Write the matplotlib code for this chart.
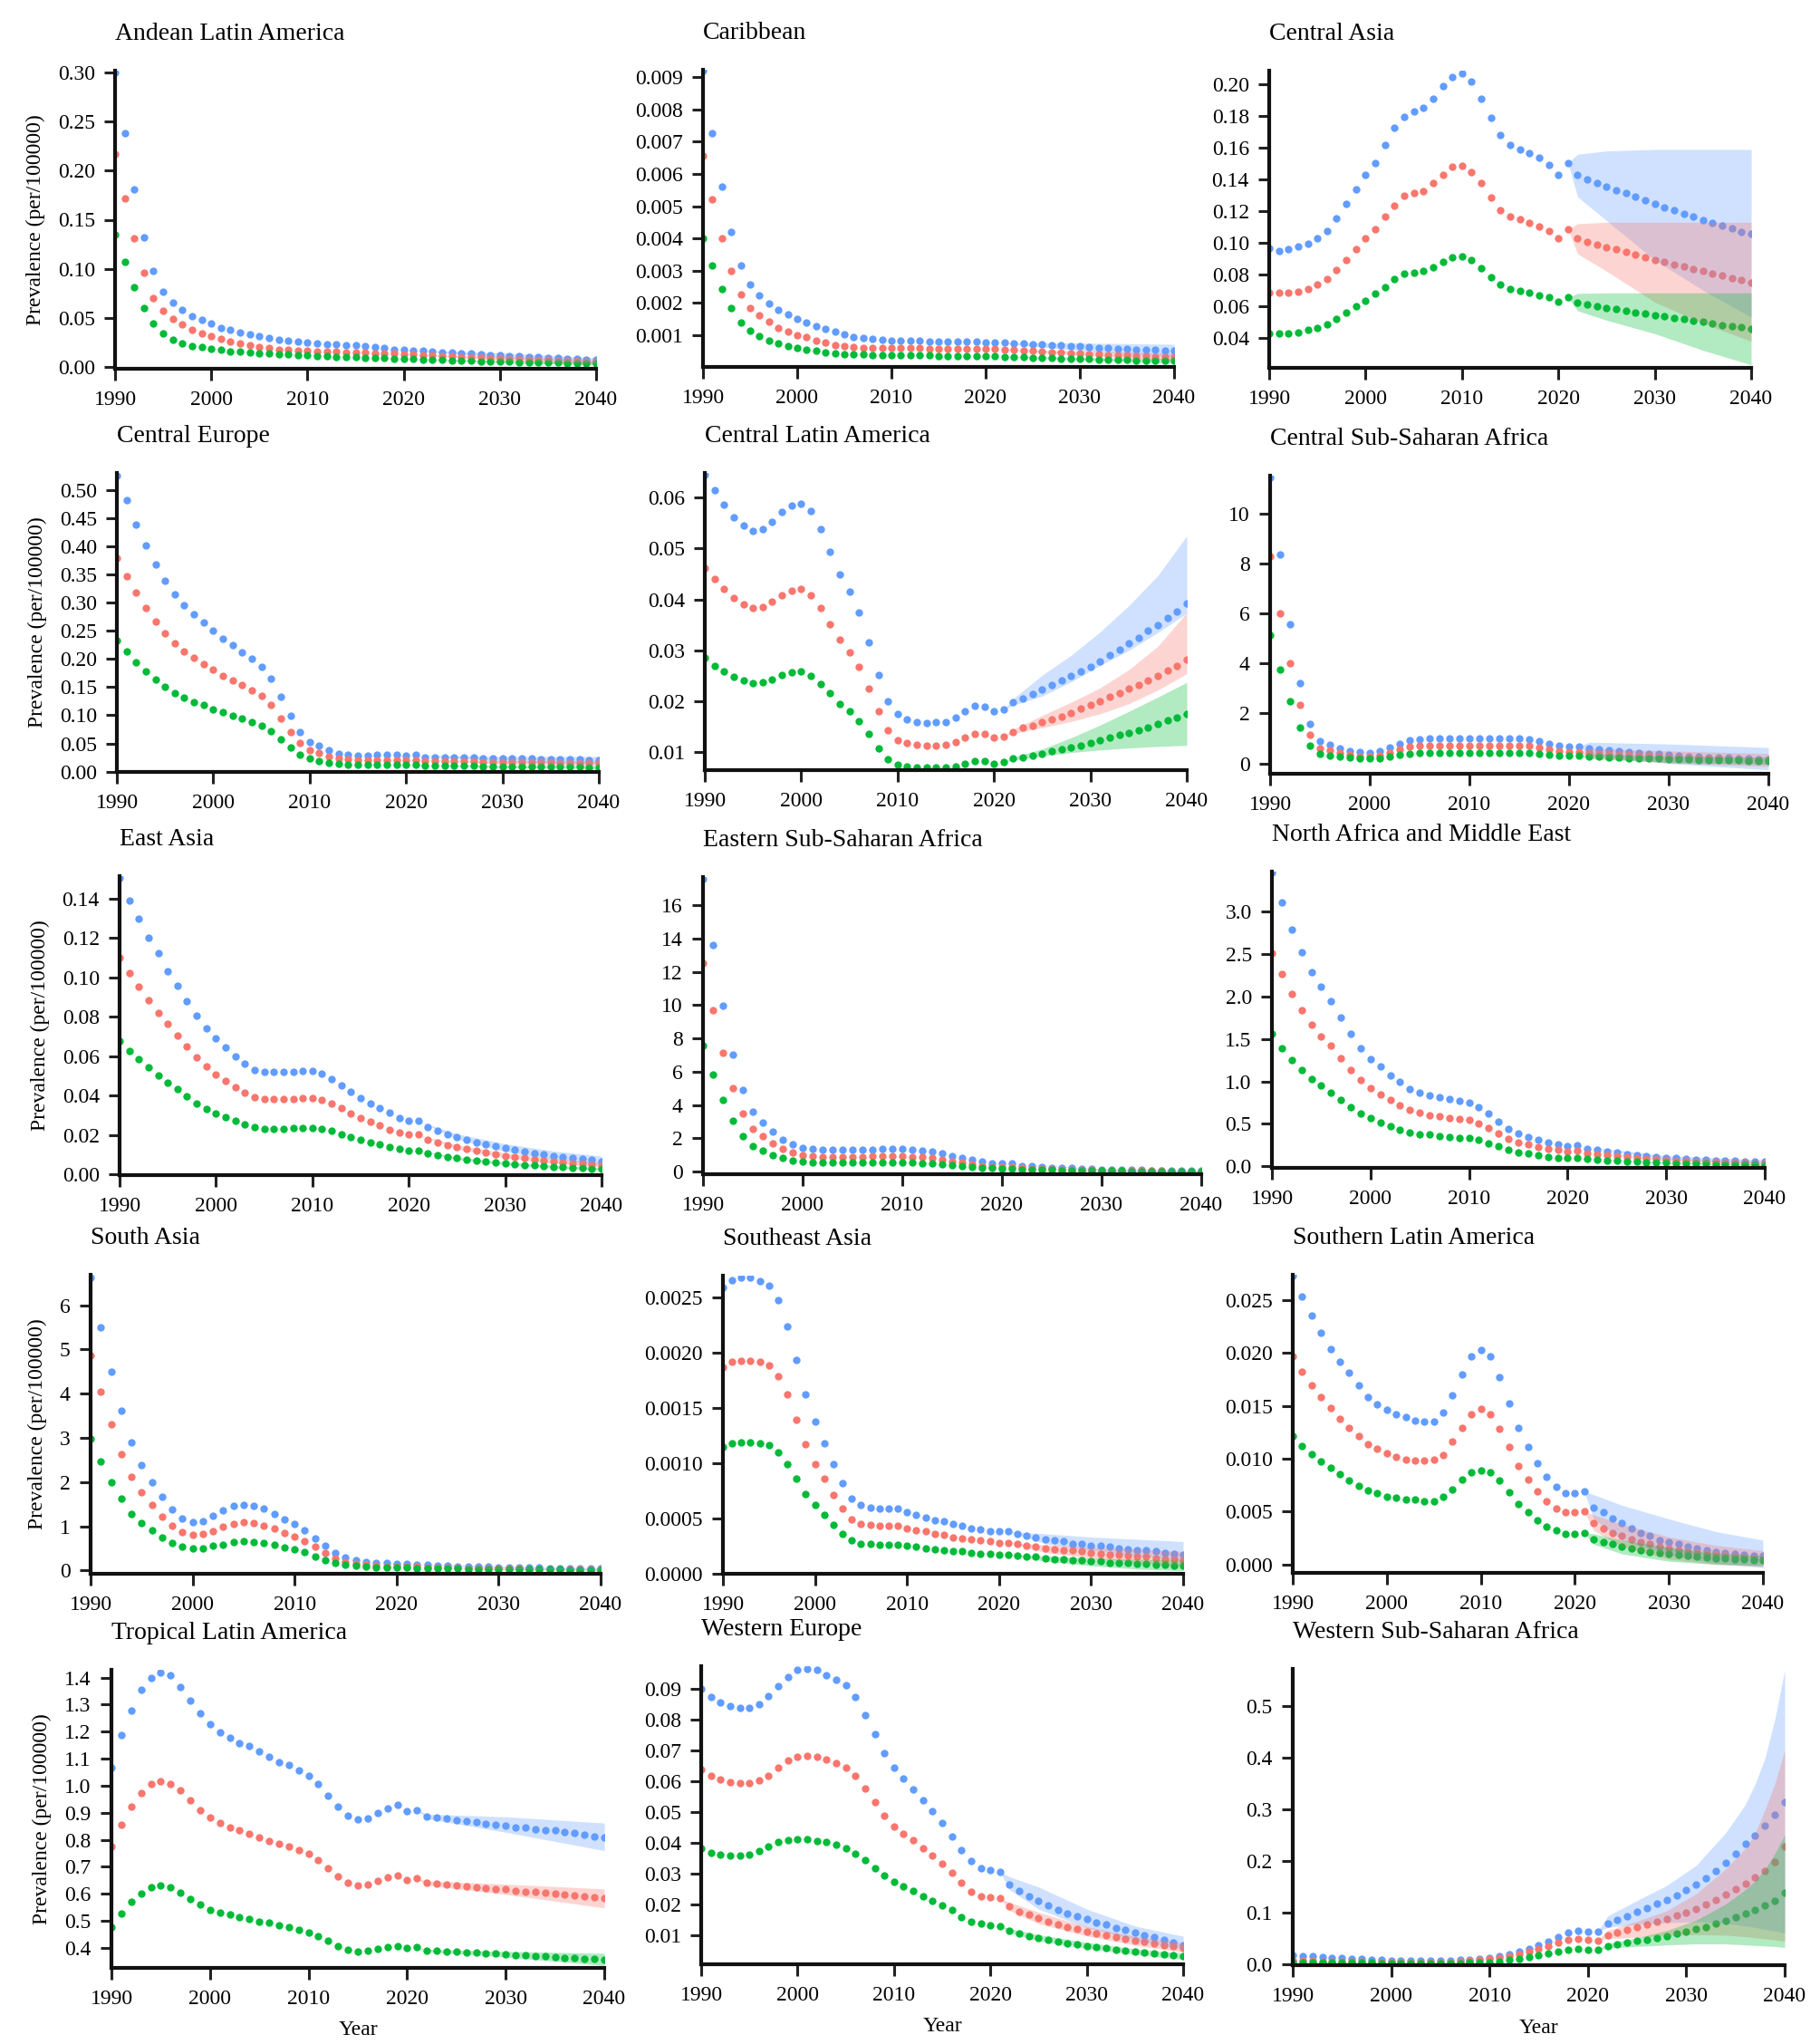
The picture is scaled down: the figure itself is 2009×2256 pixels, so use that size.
import matplotlib
matplotlib.use('Agg')
import matplotlib.pyplot as plt
from matplotlib.ticker import MultipleLocator, FormatStrFormatter

plt.rcParams['font.family'] = ['Liberation Serif', 'DejaVu Serif']

YEARS = list(range(1990, 2041))

C_BLUE = '#619CFF'
C_RED = '#F8766D'
C_GREEN = '#00BA38'
COLORS = (C_BLUE, C_RED, C_GREEN)

# ---------------- Andean Latin America ----------------
ANDEAN_BLUE = [0.300, 0.238, 0.181, 0.132, 0.098, 0.077, 0.066, 0.058, 0.052, 0.048,
               0.044, 0.040, 0.0375, 0.035, 0.033, 0.031, 0.030, 0.028, 0.027, 0.026,
               0.025, 0.024, 0.0235, 0.023, 0.0225, 0.022, 0.021, 0.020, 0.019, 0.018,
               0.0175, 0.017, 0.0165, 0.016, 0.015, 0.0145, 0.014, 0.0135, 0.013, 0.0125,
               0.012, 0.0115, 0.011, 0.0105, 0.010, 0.0095, 0.009, 0.0085, 0.008, 0.0075,
               0.007]
ANDEAN_RED = [0.217, 0.172, 0.131, 0.096, 0.070, 0.057, 0.049, 0.043, 0.0375, 0.034,
              0.031, 0.0286, 0.026, 0.024, 0.022, 0.0206, 0.019, 0.018, 0.0175, 0.017,
              0.0166, 0.016, 0.0157, 0.0154, 0.0151, 0.0148, 0.0145, 0.0142, 0.0139, 0.0136,
              0.0133, 0.013, 0.0125, 0.012, 0.0115, 0.011, 0.0106, 0.0102, 0.0098, 0.0094,
              0.009, 0.0086, 0.0082, 0.0078, 0.0074, 0.0071, 0.0068, 0.0065, 0.0062, 0.0059,
              0.0056]
ANDEAN_GREEN = [0.135, 0.107, 0.081, 0.060, 0.044, 0.0345, 0.028, 0.024, 0.0215, 0.020,
                0.0185, 0.0172, 0.016, 0.0154, 0.0148, 0.0142, 0.0137, 0.0132, 0.0127, 0.0122,
                0.0117, 0.0113, 0.0109, 0.0105, 0.0102, 0.0099, 0.0096, 0.0093, 0.009, 0.0087,
                0.0084, 0.0081, 0.0078, 0.0075, 0.0072, 0.0069, 0.0066, 0.0063, 0.006, 0.0057,
                0.0055, 0.0053, 0.0051, 0.0049, 0.0047, 0.0045, 0.0043, 0.0041, 0.0039, 0.0038,
                0.0037]
ANDEAN_BAND_YEARS = [2021, 2030, 2040]
ANDEAN_LO = ([0.017, 0.0095, 0.004], [0.013, 0.0068, 0.003], [0.0081, 0.0043, 0.0022])
ANDEAN_HI = ([0.017, 0.0145, 0.0095], [0.013, 0.011, 0.0075], [0.0081, 0.0068, 0.0052])

# ---------------- Caribbean ----------------
CARIB_BLUE = [0.0092, 0.00727, 0.0056, 0.0042, 0.00317, 0.00256, 0.00224, 0.00198, 0.0018, 0.00165,
              0.00151, 0.00139, 0.00128, 0.00119, 0.0011, 0.00102, 0.00095, 0.00091, 0.00088, 0.00086,
              0.00084, 0.00083, 0.00082, 0.00082, 0.00081, 0.00081, 0.0008, 0.0008, 0.00079, 0.00079,
              0.00078, 0.00078, 0.00077, 0.00076, 0.00074, 0.00073, 0.00071, 0.0007, 0.00068, 0.00067,
              0.00065, 0.00064, 0.00062, 0.00061, 0.00059, 0.00058, 0.00056, 0.00055, 0.00054, 0.00052,
              0.00051]
CARIB_RED = [0.00655, 0.00521, 0.004, 0.003, 0.00226, 0.00184, 0.00161, 0.00142, 0.00123, 0.00111,
             0.001, 0.00093, 0.00084, 0.00077, 0.0007, 0.00065, 0.00063, 0.00062, 0.00061, 0.00061,
             0.0006, 0.0006, 0.0006, 0.0006, 0.00059, 0.00059, 0.00059, 0.00058, 0.00058, 0.00058,
             0.00057, 0.00057, 0.00055, 0.00054, 0.00052, 0.00051, 0.00049, 0.00048, 0.00046, 0.00045,
             0.00043, 0.00042, 0.0004, 0.00039, 0.00038, 0.00037, 0.00036, 0.00035, 0.00034, 0.00033,
             0.00032]
CARIB_GREEN = [0.004, 0.00317, 0.00243, 0.00184, 0.00139, 0.00114, 0.00098, 0.00084, 0.00075, 0.00067,
               0.00061, 0.00055, 0.00051, 0.00048, 0.00044, 0.00042, 0.00041, 0.0004, 0.00039, 0.00039,
               0.00038, 0.00038, 0.00037, 0.00037, 0.00037, 0.00036, 0.00036, 0.00036, 0.00035, 0.00035,
               0.00035, 0.00035, 0.00034, 0.00033, 0.00032, 0.00031, 0.0003, 0.00029, 0.00028, 0.00027,
               0.00027, 0.00026, 0.00025, 0.00024, 0.00024, 0.00023, 0.00022, 0.00022, 0.00021, 0.00021,
               0.0002]
CARIB_BAND_YEARS = [2021, 2030, 2040]
CARIB_LO = ([0.00078, 0.00052, 0.00033], [0.00057, 0.00038, 0.00022], [0.00035, 0.00023, 0.00013])
CARIB_HI = ([0.00078, 0.00076, 0.00072], [0.00057, 0.00051, 0.00045], [0.00035, 0.00031, 0.00028])

# ---------------- Central Asia ----------------
CASIA_BLUE = [0.0965, 0.095, 0.096, 0.0975, 0.0994, 0.1026, 0.1074, 0.1156, 0.1244, 0.1336,
              0.1427, 0.1505, 0.1616, 0.1729, 0.1798, 0.183, 0.1851, 0.1908, 0.199, 0.2048,
              0.2071, 0.2019, 0.1908, 0.1788, 0.1679, 0.1616, 0.1588, 0.1567, 0.154, 0.1494,
              0.1427, 0.1505, 0.1427, 0.140, 0.1378, 0.1355, 0.1334, 0.1313, 0.129, 0.1267,
              0.1246, 0.1225, 0.1204, 0.1183, 0.1164, 0.1145, 0.1126, 0.1106, 0.1089, 0.107,
              0.1055]
CASIA_RED = [0.0686, 0.0683, 0.0683, 0.0692, 0.0706, 0.0734, 0.0769, 0.0826, 0.0893, 0.0959,
             0.1026, 0.1084, 0.1166, 0.1234, 0.1297, 0.1316, 0.1326, 0.1376, 0.1427, 0.1479,
             0.1486, 0.1448, 0.1376, 0.1286, 0.1206, 0.1166, 0.1147, 0.1126, 0.1105, 0.1074,
             0.1026, 0.1084, 0.1026, 0.1007, 0.0988, 0.0973, 0.0958, 0.0942, 0.0925, 0.0908,
             0.0893, 0.0877, 0.0862, 0.0849, 0.0833, 0.082, 0.0805, 0.0791, 0.0778, 0.0763,
             0.0749]
CASIA_GREEN = [0.0429, 0.0425, 0.0429, 0.0434, 0.0448, 0.0461, 0.0482, 0.052, 0.056, 0.060,
               0.0633, 0.0679, 0.0721, 0.0769, 0.0803, 0.0812, 0.082, 0.0845, 0.0879, 0.0906,
               0.0916, 0.0889, 0.0839, 0.0784, 0.0734, 0.0706, 0.0696, 0.0683, 0.0669, 0.0654,
               0.0625, 0.0654, 0.062, 0.061, 0.060, 0.0589, 0.0579, 0.057, 0.056, 0.0551,
               0.0543, 0.0534, 0.0524, 0.0516, 0.0507, 0.0499, 0.0492, 0.048, 0.0473, 0.0465,
               0.0453]
CASIA_BAND_YEARS = [2021, 2022, 2025, 2030, 2035, 2040]
CASIA_LO = ([0.1505, 0.129, 0.114, 0.089, 0.070, 0.053],
            [0.1084, 0.093, 0.082, 0.0625, 0.049, 0.0377],
            [0.0654, 0.057, 0.051, 0.0425, 0.032, 0.0228])
CASIA_HI = ([0.1505, 0.156, 0.158, 0.159, 0.159, 0.159],
            [0.1084, 0.112, 0.113, 0.113, 0.113, 0.113],
            [0.0654, 0.068, 0.0683, 0.0683, 0.0683, 0.0683])

# ---------------- Central Europe ----------------
CEUR_BLUE = [0.525, 0.481, 0.438, 0.401, 0.368, 0.339, 0.315, 0.296, 0.280, 0.265,
             0.250, 0.236, 0.224, 0.212, 0.200, 0.186, 0.165, 0.133, 0.099, 0.071,
             0.053, 0.0456, 0.0375, 0.032, 0.0295, 0.028, 0.0284, 0.0295, 0.0295, 0.0295,
             0.0284, 0.0295, 0.0257, 0.0255, 0.0252, 0.025, 0.0248, 0.0245, 0.0243, 0.024,
             0.0238, 0.0235, 0.0232, 0.023, 0.0227, 0.0224, 0.0221, 0.0218, 0.0215, 0.0212,
             0.021]
CEUR_RED = [0.379, 0.347, 0.317, 0.290, 0.266, 0.245, 0.228, 0.213, 0.202, 0.191,
            0.181, 0.170, 0.162, 0.154, 0.144, 0.134, 0.118, 0.095, 0.071, 0.051,
            0.0386, 0.0327, 0.0268, 0.023, 0.0214, 0.0204, 0.0206, 0.021, 0.021, 0.021,
            0.0206, 0.021, 0.019, 0.0188, 0.0186, 0.0184, 0.0182, 0.018, 0.0178, 0.0176,
            0.0174, 0.0172, 0.017, 0.0168, 0.0166, 0.0164, 0.0162, 0.016, 0.0158, 0.0156,
            0.0154]
CEUR_GREEN = [0.233, 0.213, 0.194, 0.178, 0.163, 0.151, 0.140, 0.131, 0.124, 0.118,
              0.111, 0.1056, 0.099, 0.0938, 0.0874, 0.082, 0.0713, 0.0579, 0.0429, 0.0305,
              0.023, 0.0188, 0.016, 0.0134, 0.0118, 0.0116, 0.0116, 0.0118, 0.0118, 0.0118,
              0.0116, 0.0118, 0.0107, 0.0105, 0.0104, 0.0102, 0.0101, 0.010, 0.0098, 0.0097,
              0.0095, 0.0094, 0.0092, 0.0091, 0.009, 0.0088, 0.0087, 0.0086, 0.0084, 0.0083,
              0.0082]
CEUR_BAND_YEARS = [2021, 2030, 2040]
CEUR_LO = ([0.0295, 0.018, 0.0135], [0.021, 0.0135, 0.0105], [0.0118, 0.0072, 0.0052])
CEUR_HI = ([0.0295, 0.027, 0.027], [0.021, 0.0195, 0.0195], [0.0118, 0.011, 0.0108])

# ---------------- Central Latin America ----------------
CLA_BLUE = [0.0645, 0.0614, 0.0586, 0.0562, 0.0545, 0.0535, 0.0538, 0.0553, 0.0572, 0.0584,
            0.0589, 0.0574, 0.0538, 0.0494, 0.045, 0.0415, 0.0374, 0.0315, 0.0251, 0.020,
            0.0174, 0.0165, 0.0159, 0.0157, 0.0158, 0.0159, 0.0168, 0.018, 0.019, 0.0189,
            0.018, 0.0183, 0.0198, 0.0206, 0.0214, 0.0223, 0.0232, 0.024, 0.025, 0.0259,
            0.0268, 0.0279, 0.029, 0.0301, 0.0313, 0.0324, 0.0338, 0.0349, 0.0364, 0.0377,
            0.0392]
CLA_RED = [0.0462, 0.044, 0.0421, 0.0403, 0.0391, 0.0383, 0.0385, 0.0396, 0.0408, 0.0418,
           0.0421, 0.0409, 0.0384, 0.0351, 0.0321, 0.0296, 0.0267, 0.0224, 0.018, 0.0143,
           0.0124, 0.0118, 0.0115, 0.0113, 0.0112, 0.0114, 0.0119, 0.0128, 0.0136, 0.0136,
           0.0129, 0.0131, 0.014, 0.0148, 0.0152, 0.0158, 0.0164, 0.017, 0.0177, 0.0185,
           0.0192, 0.020, 0.0208, 0.0216, 0.0225, 0.0232, 0.0241, 0.025, 0.026, 0.027,
           0.0281]
CLA_GREEN = [0.0285, 0.027, 0.0259, 0.0248, 0.024, 0.0235, 0.0237, 0.0243, 0.0251, 0.0256,
             0.0258, 0.025, 0.0234, 0.0215, 0.0195, 0.018, 0.0161, 0.0136, 0.0108, 0.0086,
             0.0075, 0.0071, 0.0069, 0.0069, 0.0069, 0.0069, 0.0072, 0.0076, 0.0082, 0.0082,
             0.0077, 0.008, 0.0087, 0.009, 0.0093, 0.0097, 0.0101, 0.0105, 0.0109, 0.0113,
             0.0118, 0.0123, 0.0128, 0.0133, 0.0137, 0.0143, 0.0149, 0.0155, 0.0162, 0.0168,
             0.0175]
CLA_BAND_YEARS = [2021, 2022, 2025, 2028, 2031, 2034, 2037, 2040]
CLA_LO = ([0.0183, 0.0192, 0.021, 0.0238, 0.027, 0.030, 0.0335, 0.0373],
          [0.0131, 0.0136, 0.0148, 0.016, 0.0175, 0.0195, 0.0222, 0.0254],
          [0.008, 0.0084, 0.0092, 0.0099, 0.0104, 0.0108, 0.0111, 0.0113])
CLA_HI = ([0.0183, 0.0205, 0.0251, 0.029, 0.0336, 0.0388, 0.0447, 0.0525],
          [0.0131, 0.0145, 0.0172, 0.0198, 0.0226, 0.0262, 0.0308, 0.0374],
          [0.008, 0.009, 0.0106, 0.0128, 0.0153, 0.018, 0.0208, 0.0237])

# ---------------- Central Sub-Saharan Africa ----------------
CSSA_BLUE = [11.45, 8.35, 5.56, 3.21, 1.58, 0.88, 0.74, 0.62, 0.50, 0.46,
             0.43, 0.48, 0.64, 0.80, 0.94, 0.98, 0.99, 1.0, 1.0, 1.0,
             1.0, 1.0, 1.0, 1.01, 1.01, 1.01, 0.98, 0.90, 0.80, 0.72,
             0.68, 0.68, 0.60, 0.56, 0.52, 0.50, 0.46, 0.43, 0.40, 0.37,
             0.34, 0.31, 0.29, 0.28, 0.25, 0.24, 0.23, 0.21, 0.19, 0.18,
             0.17]
CSSA_RED = [8.27, 6.01, 4.0, 2.33, 1.15, 0.62, 0.52, 0.43, 0.34, 0.28,
            0.27, 0.30, 0.43, 0.56, 0.66, 0.72, 0.72, 0.72, 0.72, 0.72,
            0.72, 0.72, 0.73, 0.73, 0.73, 0.73, 0.70, 0.64, 0.56, 0.50,
            0.46, 0.46, 0.42, 0.40, 0.38, 0.36, 0.34, 0.32, 0.30, 0.28,
            0.26, 0.25, 0.23, 0.22, 0.20, 0.19, 0.18, 0.16, 0.15, 0.14,
            0.13]
CSSA_GREEN = [5.14, 3.74, 2.49, 1.43, 0.70, 0.40, 0.31, 0.28, 0.24, 0.19,
              0.19, 0.22, 0.28, 0.34, 0.40, 0.43, 0.43, 0.43, 0.43, 0.43,
              0.43, 0.43, 0.43, 0.44, 0.44, 0.44, 0.43, 0.40, 0.36, 0.31,
              0.30, 0.31, 0.28, 0.27, 0.25, 0.24, 0.22, 0.21, 0.20, 0.19,
              0.18, 0.17, 0.16, 0.15, 0.14, 0.13, 0.12, 0.12, 0.11, 0.10,
              0.10]
CSSA_BAND_YEARS = [2021, 2022, 2030, 2040]
CSSA_LO = ([0.68, 0.36, 0.0, -0.25], [0.46, 0.26, 0.02, -0.12], [0.31, 0.19, 0.04, -0.03])
CSSA_HI = ([0.68, 0.85, 0.78, 0.64], [0.46, 0.60, 0.50, 0.40], [0.31, 0.38, 0.30, 0.25])

# ---------------- East Asia ----------------
EA_BLUE = [0.1503, 0.1392, 0.130, 0.120, 0.1121, 0.1029, 0.0958, 0.088, 0.0807, 0.0742,
           0.0689, 0.0644, 0.060, 0.0561, 0.0531, 0.0518, 0.0518, 0.0518, 0.0521, 0.0524,
           0.0524, 0.0511, 0.0485, 0.0452, 0.0419, 0.0385, 0.0357, 0.0334, 0.0311, 0.0285,
           0.027, 0.027, 0.0238, 0.0219, 0.0204, 0.0189, 0.0176, 0.0163, 0.0153, 0.0141,
           0.0132, 0.0123, 0.0115, 0.0107, 0.010, 0.0094, 0.0087, 0.0081, 0.0077, 0.0072,
           0.0066]
EA_RED = [0.1101, 0.1021, 0.0951, 0.0883, 0.082, 0.0762, 0.0704, 0.0647, 0.0595, 0.0546,
          0.0508, 0.0472, 0.0442, 0.0414, 0.0391, 0.0382, 0.038, 0.038, 0.0383, 0.0385,
          0.0385, 0.0376, 0.0357, 0.0334, 0.0308, 0.0285, 0.0265, 0.0247, 0.0227, 0.0212,
          0.0201, 0.0201, 0.0173, 0.0161, 0.0147, 0.0138, 0.0127, 0.0118, 0.0109, 0.0101,
          0.0094, 0.0087, 0.0081, 0.0075, 0.0071, 0.0066, 0.0061, 0.0057, 0.0054, 0.0049,
          0.0046]
EA_GREEN = [0.0675, 0.0626, 0.0583, 0.0543, 0.0503, 0.0466, 0.0431, 0.0396, 0.036, 0.0333,
            0.0308, 0.0288, 0.027, 0.0251, 0.0239, 0.0232, 0.0232, 0.0232, 0.0235, 0.0235,
            0.0236, 0.0232, 0.0219, 0.0204, 0.0189, 0.0173, 0.0163, 0.015, 0.0138, 0.0127,
            0.012, 0.012, 0.0104, 0.0095, 0.0087, 0.0081, 0.0075, 0.0069, 0.0063, 0.0058,
            0.0054, 0.0051, 0.0048, 0.0044, 0.0041, 0.0038, 0.0037, 0.0034, 0.0032, 0.0029,
            0.0028]
EA_BAND_YEARS = [2021, 2025, 2030, 2035, 2040]
EA_LO = ([0.027, 0.0178, 0.0115, 0.0075, 0.0048],
         [0.0201, 0.0128, 0.0083, 0.0055, 0.0036],
         [0.012, 0.0075, 0.0047, 0.0031, 0.0021])
EA_HI = ([0.027, 0.0205, 0.0155, 0.0118, 0.0092],
         [0.0201, 0.0148, 0.0108, 0.008, 0.006],
         [0.012, 0.0087, 0.0062, 0.0046, 0.0035])

# ---------------- Eastern Sub-Saharan Africa ----------------
ESSA_BLUE = [17.58, 13.59, 9.97, 7.03, 4.89, 3.62, 2.95, 2.39, 1.94, 1.63,
             1.45, 1.36, 1.30, 1.30, 1.30, 1.30, 1.30, 1.32, 1.35, 1.36,
             1.36, 1.33, 1.27, 1.21, 1.09, 0.96, 0.85, 0.72, 0.60, 0.51,
             0.49, 0.49, 0.36, 0.33, 0.29, 0.25, 0.24, 0.22, 0.18, 0.16,
             0.145, 0.135, 0.125, 0.115, 0.105, 0.095, 0.088, 0.08, 0.073, 0.066,
             0.06]
ESSA_RED = [12.54, 9.69, 7.16, 5.02, 3.48, 2.59, 2.12, 1.69, 1.36, 1.14,
            1.00, 0.94, 0.90, 0.90, 0.90, 0.90, 0.90, 0.92, 0.93, 0.93,
            0.93, 0.91, 0.87, 0.82, 0.72, 0.63, 0.54, 0.45, 0.36, 0.31,
            0.29, 0.29, 0.22, 0.20, 0.18, 0.16, 0.145, 0.13, 0.115, 0.10,
            0.09, 0.082, 0.074, 0.067, 0.06, 0.054, 0.048, 0.043, 0.038, 0.034,
            0.03]
ESSA_GREEN = [7.56, 5.85, 4.31, 3.04, 2.12, 1.54, 1.27, 1.00, 0.82, 0.69,
              0.60, 0.54, 0.54, 0.54, 0.54, 0.54, 0.54, 0.55, 0.55, 0.55,
              0.55, 0.55, 0.53, 0.49, 0.45, 0.40, 0.36, 0.29, 0.24, 0.22,
              0.20, 0.20, 0.13, 0.12, 0.11, 0.10, 0.09, 0.08, 0.072, 0.065,
              0.058, 0.052, 0.047, 0.042, 0.038, 0.034, 0.031, 0.028, 0.025, 0.022,
              0.02]
ESSA_BAND_YEARS = [2021, 2030, 2040]
ESSA_LO = ([0.49, 0.11, 0.03], [0.29, 0.065, 0.012], [0.20, 0.04, 0.008])
ESSA_HI = ([0.49, 0.18, 0.09], [0.29, 0.115, 0.048], [0.20, 0.075, 0.032])

# ---------------- North Africa and Middle East ----------------
NAME_BLUE = [3.455, 3.11, 2.787, 2.52, 2.289, 2.115, 1.945, 1.756, 1.564, 1.394,
             1.266, 1.173, 1.074, 0.992, 0.914, 0.867, 0.835, 0.814, 0.789, 0.771,
             0.754, 0.70, 0.619, 0.53, 0.444, 0.387, 0.345, 0.316, 0.284, 0.263,
             0.238, 0.245, 0.21, 0.192, 0.174, 0.16, 0.146, 0.132, 0.121, 0.11,
             0.103, 0.096, 0.089, 0.082, 0.078, 0.071, 0.068, 0.064, 0.06, 0.057,
             0.053]
NAME_RED = [2.513, 2.264, 2.033, 1.838, 1.667, 1.532, 1.418, 1.276, 1.134, 1.013,
            0.921, 0.85, 0.782, 0.718, 0.665, 0.629, 0.604, 0.587, 0.572, 0.558,
            0.547, 0.505, 0.451, 0.387, 0.327, 0.281, 0.256, 0.231, 0.21, 0.192,
            0.178, 0.181, 0.156, 0.142, 0.128, 0.117, 0.107, 0.10, 0.092, 0.085,
            0.078, 0.071, 0.068, 0.06, 0.057, 0.053, 0.05, 0.046, 0.043, 0.039,
            0.036]
NAME_GREEN = [1.561, 1.394, 1.251, 1.138, 1.027, 0.949, 0.871, 0.786, 0.693, 0.619,
              0.565, 0.516, 0.473, 0.434, 0.398, 0.38, 0.373, 0.355, 0.345, 0.338,
              0.331, 0.309, 0.274, 0.238, 0.192, 0.167, 0.149, 0.135, 0.114, 0.103,
              0.096, 0.103, 0.089, 0.078, 0.071, 0.064, 0.057, 0.053, 0.05, 0.046,
              0.043, 0.040, 0.037, 0.034, 0.032, 0.029, 0.027, 0.025, 0.023, 0.021,
              0.019]
NAME_BAND_YEARS = [2021, 2030, 2040]
NAME_LO = ([0.245, 0.085, 0.035], [0.181, 0.065, 0.024], [0.103, 0.035, 0.01])
NAME_HI = ([0.245, 0.125, 0.075], [0.181, 0.092, 0.05], [0.103, 0.052, 0.027])

# ---------------- South Asia ----------------
SA_BLUE = [6.63, 5.51, 4.50, 3.61, 2.89, 2.38, 2.00, 1.66, 1.38, 1.18,
           1.09, 1.11, 1.23, 1.35, 1.46, 1.49, 1.47, 1.39, 1.28, 1.15,
           1.05, 0.91, 0.73, 0.55, 0.40, 0.29, 0.24, 0.20, 0.17, 0.16,
           0.15, 0.15, 0.13, 0.12, 0.11, 0.10, 0.095, 0.09, 0.085, 0.08,
           0.075, 0.07, 0.066, 0.062, 0.058, 0.054, 0.05, 0.047, 0.044, 0.041,
           0.038]
SA_RED = [4.87, 4.05, 3.30, 2.64, 2.12, 1.76, 1.48, 1.22, 1.01, 0.87,
          0.81, 0.82, 0.89, 0.98, 1.06, 1.09, 1.07, 1.01, 0.94, 0.85,
          0.77, 0.66, 0.53, 0.39, 0.27, 0.19, 0.15, 0.12, 0.10, 0.096,
          0.09, 0.09, 0.08, 0.074, 0.068, 0.063, 0.058, 0.054, 0.05, 0.046,
          0.043, 0.04, 0.037, 0.035, 0.032, 0.03, 0.028, 0.026, 0.024, 0.022,
          0.02]
SA_GREEN = [2.97, 2.47, 2.00, 1.62, 1.28, 1.07, 0.90, 0.75, 0.63, 0.53,
            0.49, 0.50, 0.55, 0.59, 0.65, 0.67, 0.65, 0.62, 0.57, 0.51,
            0.47, 0.41, 0.32, 0.24, 0.17, 0.12, 0.10, 0.08, 0.07, 0.06,
            0.06, 0.06, 0.052, 0.048, 0.044, 0.04, 0.037, 0.034, 0.031, 0.029,
            0.027, 0.025, 0.023, 0.021, 0.02, 0.018, 0.017, 0.016, 0.014, 0.013,
            0.012]
SA_BAND_YEARS = [2021, 2030, 2040]
SA_LO = ([0.15, 0.055, 0.02], [0.09, 0.03, 0.01], [0.06, 0.019, 0.006])
SA_HI = ([0.15, 0.095, 0.06], [0.09, 0.056, 0.032], [0.06, 0.035, 0.02])

# ---------------- Southeast Asia ----------------
SEA_BLUE = [0.00259, 0.00266, 0.00268, 0.00268, 0.00265, 0.00261, 0.00248, 0.00224, 0.00194, 0.00162,
            0.00138, 0.00118, 0.00099, 0.00082, 0.00068, 0.00062, 0.0006, 0.00059, 0.00059, 0.00059,
            0.00056, 0.00053, 0.00051, 0.00048, 0.00047, 0.00045, 0.00043, 0.00041, 0.0004, 0.00038,
            0.00038, 0.00038, 0.00036, 0.00034, 0.00033, 0.00031, 0.0003, 0.00029, 0.00027, 0.00027,
            0.00025, 0.00025, 0.00024, 0.00023, 0.00022, 0.00021, 0.00021, 0.0002, 0.00019, 0.00018,
            0.00017]
SEA_RED = [0.00187, 0.00192, 0.00193, 0.00193, 0.00192, 0.00189, 0.00179, 0.00162, 0.00139, 0.00117,
           0.00099, 0.00086, 0.00071, 0.00059, 0.00049, 0.00045, 0.00044, 0.00043, 0.00043, 0.00043,
           0.00041, 0.00039, 0.00038, 0.00036, 0.00035, 0.00033, 0.00032, 0.00031, 0.0003, 0.00029,
           0.00028, 0.00028, 0.00027, 0.00025, 0.00024, 0.00023, 0.00022, 0.00021, 0.00021, 0.0002,
           0.00019, 0.00018, 0.00017, 0.00017, 0.00016, 0.00015, 0.00015, 0.00014, 0.00013, 0.00013,
           0.00012]
SEA_GREEN = [0.00115, 0.00118, 0.00119, 0.00119, 0.00118, 0.00116, 0.0011, 0.00099, 0.00086, 0.00072,
             0.00062, 0.00053, 0.00044, 0.00036, 0.0003, 0.00027, 0.00027, 0.00026, 0.00026, 0.00026,
             0.00025, 0.00024, 0.00023, 0.00022, 0.00021, 0.0002, 0.0002, 0.00019, 0.00018, 0.00018,
             0.00017, 0.00017, 0.00016, 0.00015, 0.00015, 0.00014, 0.00013, 0.00013, 0.00012, 0.00012,
             0.00011, 0.00011, 0.0001, 0.0001, 0.000096, 0.00009, 0.000088, 0.000082, 0.00008, 0.000074,
             0.000068]
SEA_BAND_YEARS = [2021, 2025, 2030, 2035, 2040]
SEA_LO = ([0.00038, 0.00027, 0.00021, 0.00016, 0.00012],
          [0.00028, 0.00019, 0.00014, 0.0001, 0.00007],
          [0.00017, 0.00011, 0.00007, 0.00004, 0.000025])
SEA_HI = ([0.00038, 0.00036, 0.00033, 0.00031, 0.00029],
          [0.00028, 0.00026, 0.00024, 0.00022, 0.0002],
          [0.00017, 0.00016, 0.00014, 0.00013, 0.00012])

# ---------------- Southern Latin America ----------------
SLA_BLUE = [0.0273, 0.0253, 0.0235, 0.0219, 0.0204, 0.0192, 0.0181, 0.0169, 0.0158, 0.0151,
            0.0146, 0.0142, 0.0139, 0.0136, 0.0135, 0.0135, 0.0144, 0.016, 0.018, 0.0197,
            0.0203, 0.0197, 0.0177, 0.0152, 0.0129, 0.0111, 0.0096, 0.0083, 0.0073, 0.0067,
            0.0067, 0.0069, 0.0054, 0.0049, 0.0043, 0.0039, 0.0034, 0.003, 0.0027, 0.0023,
            0.0021, 0.0019, 0.0017, 0.0015, 0.0013, 0.0012, 0.0011, 0.001, 0.0009, 0.00086,
            0.0008]
SLA_RED = [0.0197, 0.0182, 0.0169, 0.0158, 0.0148, 0.0138, 0.0129, 0.0121, 0.0114, 0.0109,
           0.0105, 0.0102, 0.0099, 0.0098, 0.0098, 0.0099, 0.0103, 0.0116, 0.0129, 0.0142,
           0.0147, 0.0142, 0.0128, 0.0111, 0.0093, 0.008, 0.0069, 0.006, 0.0053, 0.0049,
           0.0049, 0.005, 0.0039, 0.0034, 0.003, 0.0027, 0.0024, 0.0021, 0.0019, 0.0017,
           0.0015, 0.0013, 0.0012, 0.0011, 0.001, 0.0009, 0.0008, 0.0007, 0.00066, 0.00057,
           0.0005]
SLA_GREEN = [0.0121, 0.0112, 0.0104, 0.0097, 0.0091, 0.0085, 0.0079, 0.0074, 0.007, 0.0067,
             0.0064, 0.0063, 0.0061, 0.0061, 0.006, 0.006, 0.0064, 0.0071, 0.008, 0.0087,
             0.0089, 0.0087, 0.0079, 0.0068, 0.0057, 0.0049, 0.0042, 0.0036, 0.0032, 0.0029,
             0.0029, 0.003, 0.0024, 0.0021, 0.0019, 0.0017, 0.0015, 0.0013, 0.0012, 0.0011,
             0.001, 0.0009, 0.0008, 0.0007, 0.00066, 0.0006, 0.00054, 0.00049, 0.00046, 0.00043,
             0.00037]
SLA_BAND_YEARS = [2021, 2022, 2025, 2030, 2035, 2040]
SLA_LO = ([0.0069, 0.0043, 0.0023, 0.0009, 0.0001, -0.0003],
          [0.005, 0.0032, 0.0017, 0.0005, 0.0, -0.0002],
          [0.003, 0.0019, 0.001, 0.0003, 0.0, -0.0001])
SLA_HI = ([0.0069, 0.0066, 0.0056, 0.0043, 0.0031, 0.0023],
          [0.005, 0.0047, 0.0038, 0.0026, 0.0018, 0.0013],
          [0.003, 0.0029, 0.0023, 0.0016, 0.0011, 0.0008])

# ---------------- Tropical Latin America ----------------
TLA_BLUE = [1.067, 1.188, 1.277, 1.355, 1.398, 1.419, 1.408, 1.366, 1.316, 1.268,
            1.227, 1.197, 1.179, 1.158, 1.146, 1.128, 1.106, 1.087, 1.078, 1.057,
            1.037, 1.007, 0.964, 0.922, 0.889, 0.875, 0.88, 0.899, 0.916, 0.928,
            0.905, 0.911, 0.886, 0.883, 0.878, 0.874, 0.869, 0.865, 0.86, 0.856,
            0.851, 0.847, 0.844, 0.84, 0.837, 0.834, 0.829, 0.825, 0.819, 0.813,
            0.808]
TLA_RED = [0.774, 0.855, 0.922, 0.973, 1.007, 1.017, 1.007, 0.984, 0.947, 0.908,
           0.883, 0.864, 0.847, 0.834, 0.821, 0.81, 0.797, 0.785, 0.774, 0.763,
           0.749, 0.726, 0.696, 0.665, 0.642, 0.631, 0.635, 0.648, 0.66, 0.668,
           0.651, 0.657, 0.64, 0.637, 0.634, 0.631, 0.628, 0.625, 0.622, 0.619,
           0.616, 0.612, 0.609, 0.606, 0.603, 0.60, 0.597, 0.593, 0.59, 0.587,
           0.583]
TLA_GREEN = [0.478, 0.526, 0.57, 0.601, 0.623, 0.631, 0.623, 0.604, 0.582, 0.56,
             0.542, 0.531, 0.523, 0.514, 0.506, 0.498, 0.492, 0.484, 0.476, 0.467,
             0.458, 0.445, 0.426, 0.408, 0.392, 0.387, 0.389, 0.397, 0.403, 0.408,
             0.40, 0.402, 0.391, 0.389, 0.387, 0.385, 0.383, 0.382, 0.38, 0.378,
             0.375, 0.374, 0.372, 0.37, 0.369, 0.366, 0.364, 0.363, 0.361, 0.359,
             0.355]
TLA_BAND_YEARS = [2021, 2022, 2030, 2040]
TLA_LO = ([0.911, 0.878, 0.828, 0.76], [0.657, 0.632, 0.598, 0.548], [0.402, 0.386, 0.366, 0.335])
TLA_HI = ([0.911, 0.895, 0.885, 0.862], [0.657, 0.648, 0.636, 0.618], [0.402, 0.395, 0.387, 0.38])

# ---------------- Western Europe ----------------
WE_BLUE = [0.090, 0.0873, 0.0856, 0.0845, 0.084, 0.0838, 0.085, 0.0877, 0.0909, 0.0939,
           0.0961, 0.0966, 0.0961, 0.0946, 0.0931, 0.0912, 0.0873, 0.0816, 0.0752, 0.0691,
           0.0645, 0.061, 0.0575, 0.0539, 0.0503, 0.0466, 0.0422, 0.0377, 0.0341, 0.0319,
           0.0311, 0.0306, 0.0265, 0.0245, 0.0227, 0.0211, 0.0196, 0.0183, 0.0172, 0.0162,
           0.0152, 0.0142, 0.0134, 0.0125, 0.0118, 0.011, 0.0101, 0.0093, 0.0085, 0.0077,
           0.0068]
WE_RED = [0.0639, 0.0618, 0.0605, 0.0598, 0.0595, 0.0595, 0.0603, 0.0618, 0.0644, 0.0667,
          0.0679, 0.0684, 0.0679, 0.067, 0.0659, 0.0644, 0.0618, 0.0578, 0.0532, 0.0488,
          0.0454, 0.0431, 0.0409, 0.0384, 0.036, 0.0333, 0.0302, 0.027, 0.0242, 0.0228,
          0.0223, 0.0221, 0.0193, 0.0178, 0.0167, 0.0155, 0.0145, 0.0135, 0.0127, 0.012,
          0.0113, 0.0106, 0.010, 0.0093, 0.0088, 0.0083, 0.0078, 0.0074, 0.0069, 0.0064,
          0.0059]
WE_GREEN = [0.0382, 0.0368, 0.0363, 0.036, 0.036, 0.0363, 0.0373, 0.0387, 0.0402, 0.041,
            0.0412, 0.0412, 0.0407, 0.0402, 0.0395, 0.0382, 0.0366, 0.0345, 0.0319, 0.0294,
            0.0275, 0.026, 0.0245, 0.0228, 0.0213, 0.0198, 0.0181, 0.016, 0.0144, 0.0137,
            0.0132, 0.013, 0.0115, 0.0106, 0.0098, 0.0091, 0.0085, 0.008, 0.0075, 0.0071,
            0.0066, 0.0062, 0.0058, 0.0054, 0.0051, 0.0047, 0.0044, 0.0041, 0.0038, 0.0035,
            0.0032]
WE_BAND_YEARS = [2021, 2022, 2025, 2030, 2035, 2040]
WE_LO = ([0.0306, 0.0248, 0.0185, 0.0125, 0.0085, 0.0055],
         [0.0221, 0.018, 0.0138, 0.0098, 0.0068, 0.0045],
         [0.013, 0.0108, 0.0082, 0.0057, 0.0038, 0.0022])
WE_HI = ([0.0306, 0.029, 0.0257, 0.0185, 0.013, 0.0097],
         [0.0221, 0.0207, 0.0175, 0.0128, 0.0097, 0.0075],
         [0.013, 0.0122, 0.0102, 0.0077, 0.0056, 0.0042])

# ---------------- Western Sub-Saharan Africa ----------------
WSSA_BLUE = [0.0175, 0.0164, 0.0158, 0.0146, 0.0135, 0.0129, 0.0117, 0.0105, 0.0099, 0.0088,
             0.0082, 0.0076, 0.0076, 0.007, 0.007, 0.007, 0.0076, 0.0088, 0.0099, 0.0117,
             0.0135, 0.0164, 0.0205, 0.0251, 0.031, 0.038, 0.045, 0.0538, 0.0614, 0.0655,
             0.0643, 0.0632, 0.0789, 0.086, 0.0936, 0.1023, 0.11, 0.1181, 0.1257, 0.1345,
             0.1444, 0.155, 0.1667, 0.1813, 0.1977, 0.2152, 0.2339, 0.2503, 0.269, 0.2906,
             0.314]
WSSA_RED = [0.0076, 0.0072, 0.0068, 0.0064, 0.006, 0.0057, 0.0054, 0.0051, 0.0048, 0.0046,
            0.0044, 0.0042, 0.0041, 0.004, 0.004, 0.004, 0.0047, 0.0058, 0.007, 0.0088,
            0.0105, 0.0129, 0.0158, 0.0199, 0.0251, 0.0304, 0.0363, 0.0421, 0.048, 0.0497,
            0.048, 0.0468, 0.0567, 0.0614, 0.0673, 0.0719, 0.0772, 0.083, 0.0889, 0.0947,
            0.1012, 0.1082, 0.117, 0.1257, 0.1357, 0.1462, 0.1567, 0.1696, 0.1813, 0.1988,
            0.228]
WSSA_GREEN = [0.0047, 0.0044, 0.0041, 0.0039, 0.0037, 0.0035, 0.0034, 0.0033, 0.0032, 0.0031,
              0.003, 0.003, 0.003, 0.003, 0.003, 0.003, 0.003, 0.003, 0.0032, 0.004,
              0.0047, 0.0058, 0.0088, 0.0117, 0.0146, 0.0175, 0.0216, 0.0251, 0.0292, 0.0304,
              0.0292, 0.0281, 0.0363, 0.0392, 0.0427, 0.0456, 0.0485, 0.0515, 0.0556, 0.0596,
              0.0643, 0.0684, 0.0731, 0.0789, 0.0848, 0.0918, 0.0988, 0.1064, 0.114, 0.1228,
              0.140]
WSSA_BAND_YEARS = [2021, 2022, 2025, 2028, 2031, 2034, 2036, 2037, 2038, 2039, 2040]
WSSA_LO = ([0.0632, 0.072, 0.078, 0.081, 0.083, 0.080, 0.075, 0.072, 0.068, 0.065, 0.061],
           [0.0468, 0.050, 0.053, 0.056, 0.058, 0.057, 0.054, 0.052, 0.050, 0.048, 0.045],
           [0.0281, 0.032, 0.035, 0.038, 0.040, 0.040, 0.038, 0.037, 0.036, 0.035, 0.033])
WSSA_HI = ([0.0632, 0.094, 0.124, 0.153, 0.192, 0.255, 0.310, 0.350, 0.400, 0.475, 0.570],
           [0.0468, 0.066, 0.084, 0.104, 0.137, 0.185, 0.225, 0.255, 0.300, 0.350, 0.415],
           [0.0281, 0.041, 0.052, 0.066, 0.086, 0.117, 0.145, 0.162, 0.185, 0.215, 0.251])

# panel table: title, series, band, axes box in px (left, top, right, bottom), ylim, tick step, format
PANELS = [
    ('Andean Latin America', (ANDEAN_BLUE, ANDEAN_RED, ANDEAN_GREEN), (ANDEAN_BAND_YEARS, ANDEAN_LO, ANDEAN_HI),
     (127, 78, 658, 407), (-0.0018, 0.3018), 0.05, '%.2f'),
    ('Caribbean', (CARIB_BLUE, CARIB_RED, CARIB_GREEN), (CARIB_BAND_YEARS, CARIB_LO, CARIB_HI),
     (776, 77, 1296, 405), (0.0000175, 0.009225), 0.001, '%.3f'),
    ('Central Asia', (CASIA_BLUE, CASIA_RED, CASIA_GREEN), (CASIA_BAND_YEARS, CASIA_LO, CASIA_HI),
     (1401, 78, 1933, 406), (0.0209, 0.2088), 0.02, '%.2f'),
    ('Central Europe', (CEUR_BLUE, CEUR_RED, CEUR_GREEN), (CEUR_BAND_YEARS, CEUR_LO, CEUR_HI),
     (129, 522, 661, 852), (-0.0005, 0.530), 0.05, '%.2f'),
    ('Central Latin America', (CLA_BLUE, CLA_RED, CLA_GREEN), (CLA_BAND_YEARS, CLA_LO, CLA_HI),
     (778, 522, 1310, 850), (0.00644, 0.06487), 0.01, '%.2f'),
    ('Central Sub-Saharan Africa', (CSSA_BLUE, CSSA_RED, CSSA_GREEN), (CSSA_BAND_YEARS, CSSA_LO, CSSA_HI),
     (1402, 525, 1952, 854), (-0.41, 11.51), 2, '%d'),
    ('East Asia', (EA_BLUE, EA_RED, EA_GREEN), (EA_BAND_YEARS, EA_LO, EA_HI),
     (132, 967, 664, 1297), (-0.00046, 0.1514), 0.02, '%.2f'),
    ('Eastern Sub-Saharan Africa', (ESSA_BLUE, ESSA_RED, ESSA_GREEN), (ESSA_BAND_YEARS, ESSA_LO, ESSA_HI),
     (776, 968, 1326, 1296), (-0.147, 17.68), 2, '%d'),
    ('North Africa and Middle East', (NAME_BLUE, NAME_RED, NAME_GREEN), (NAME_BAND_YEARS, NAME_LO, NAME_HI),
     (1404, 962, 1948, 1289), (-0.018, 3.469), 0.5, '%.1f'),
    ('South Asia', (SA_BLUE, SA_RED, SA_GREEN), (SA_BAND_YEARS, SA_LO, SA_HI),
     (100, 1407, 663, 1737), (-0.076, 6.69), 1, '%d'),
    ('Southeast Asia', (SEA_BLUE, SEA_RED, SEA_GREEN), (SEA_BAND_YEARS, SEA_LO, SEA_HI),
     (798, 1408, 1306, 1737), (-0.0000025, 0.0027), 0.0005, '%.4f'),
    ('Southern Latin America', (SLA_BLUE, SLA_RED, SLA_GREEN), (SLA_BAND_YEARS, SLA_LO, SLA_HI),
     (1427, 1407, 1946, 1736), (-0.0008, 0.0274), 0.005, '%.3f'),
    ('Tropical Latin America', (TLA_BLUE, TLA_RED, TLA_GREEN), (TLA_BAND_YEARS, TLA_LO, TLA_HI),
     (123, 1843, 667, 2172), (0.326, 1.429), 0.1, '%.1f'),
    ('Western Europe', (WE_BLUE, WE_RED, WE_GREEN), (WE_BAND_YEARS, WE_LO, WE_HI),
     (774, 1839, 1306, 2168), (0.00059, 0.0974), 0.01, '%.2f'),
    ('Western Sub-Saharan Africa', (WSSA_BLUE, WSSA_RED, WSSA_GREEN), (WSSA_BAND_YEARS, WSSA_LO, WSSA_HI),
     (1427, 1842, 1970, 2169), (-0.0012, 0.5725), 0.1, '%.1f'),
]

W, H = 2009, 2256
fig = plt.figure(figsize=(W / 100, H / 100), dpi=100)

for i, (title, series, band, box, ylim, step, fmt) in enumerate(PANELS):
    l, t, r, b = box
    ax = fig.add_axes([l / W, 1 - b / H, (r - l) / W, (b - t) / H])

    for vals, c in zip(series, COLORS):
        ax.scatter(YEARS, vals, s=36, color=c, linewidths=0, zorder=2)

    yrs, lows, highs = band
    for lo, hi, c in zip(lows, highs, COLORS):
        ax.fill_between(yrs, lo, hi, color=c, alpha=0.3, linewidth=0, zorder=3)

    ax.set_xlim(1990, 2040)
    ax.set_ylim(*ylim)
    ax.xaxis.set_major_locator(MultipleLocator(10))
    ax.yaxis.set_major_locator(MultipleLocator(step))
    ax.yaxis.set_major_formatter(FormatStrFormatter(fmt))

    for side in ('top', 'right'):
        ax.spines[side].set_visible(False)
    for side in ('left', 'bottom'):
        ax.spines[side].set_linewidth(3.0)
        ax.spines[side].set_color('#111111')
        ax.spines[side].set_zorder(5)

    ax.tick_params(axis='both', direction='out', length=9, width=2.2, color='#222222',
                   labelsize=17)
    ax.tick_params(axis='y', pad=7)
    ax.tick_params(axis='x', pad=8)

    ax.annotate(title, xy=(0, 1), xycoords='axes fraction', xytext=(0, 29.5),
                textcoords='offset points', ha='left', va='center', fontsize=20)

    if i % 3 == 0:
        ax.set_ylabel('Prevalence (per/100000)', fontsize=17, labelpad=10)
    if i >= 12:
        ax.set_xlabel('Year', fontsize=17, labelpad=10)

fig.savefig('out.png', dpi=100)
plt.close(fig)
